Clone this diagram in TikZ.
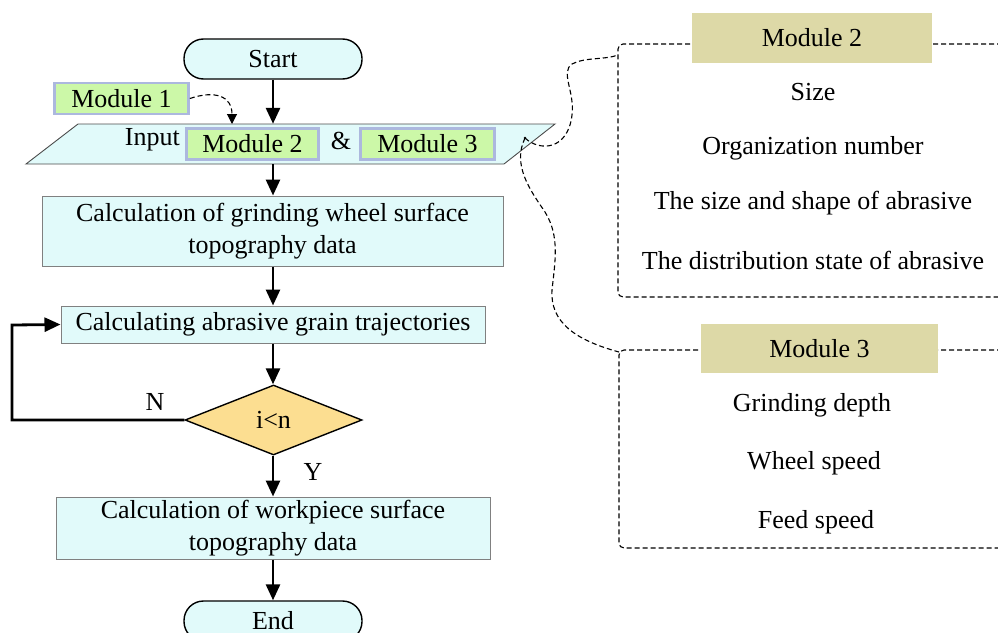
\documentclass[tikz,border=0pt]{standalone}
\usepackage{fontspec}
\setmainfont{Liberation Serif}
\usetikzlibrary{shapes.geometric,arrows.meta}
\definecolor{cyanfill}{RGB}{225,250,250}
\definecolor{greenfill}{RGB}{204,248,168}
\definecolor{greenedge}{RGB}{172,184,222}
\definecolor{khaki}{RGB}{221,217,167}
\definecolor{diamfill}{RGB}{252,222,145}
\definecolor{boxedge}{RGB}{128,128,128}
\begin{document}
\begin{tikzpicture}[x=1pt,y=-1pt,
  every node/.style={font=\fontsize{26}{32}\selectfont, inner sep=0pt},
  term/.style={draw=black, line width=1.4pt, fill=cyanfill, rounded corners=19.5pt, minimum width=178pt, minimum height=40pt},
  procbox/.style={draw=boxedge, line width=1pt, fill=cyanfill, align=center},
  greenbox/.style={draw=greenedge, line width=2.8pt, fill=greenfill, minimum height=31pt},
  flowarrow/.style={line width=2.8pt, -{Triangle[width=14pt,length=16pt]}},
  dasharrow/.style={dash pattern=on 5pt off 3pt, line width=1.1pt, -{Triangle[width=10pt,length=10pt]}},
  dashline/.style={dash pattern=on 5pt off 3pt, line width=1.1pt},
  panel/.style={dash pattern=on 5pt off 3pt, line width=1.1pt, rounded corners=5pt},
  header/.style={fill=khaki, minimum width=240pt, minimum height=50pt},
  item/.style={anchor=center}
]
\useasboundingbox (0,0) rectangle (998,632);

% Start
\node[term] (start) at (273,59) {Start};

% Module 1
\node[greenbox, minimum width=134pt] (m1) at (121.5,98.5) {Module 1};

% Input parallelogram
\draw[draw=black!70, line width=0.9pt, fill=cyanfill] (78,124) -- (555,124) -- (504,164) -- (26,164) -- cycle;
\node[minimum width=478pt, minimum height=40pt] (input) at (290.5,144) {};
\node[anchor=east] (inputtxt) at (180,140) {Input};
\node[greenbox, minimum width=132pt] (im2) at (252.5,144) {Module 2};
\node (amp) at (341,141) {\&};
\node[greenbox, minimum width=134pt] (im3) at (427.5,144) {Module 3};
\coordinate (intop) at (232,124);
\coordinate (J) at (525,138);

% Process boxes
\node[procbox, minimum width=461pt, minimum height=70pt] (b1) at (272.5,231) {Calculation of grinding wheel surface\\topography data};
\node[procbox, minimum width=424pt, minimum height=37pt] (b2) at (273,324.5) {Calculating abrasive grain trajectories};
\node[draw=black, line width=1.4pt, fill=diamfill, shape=diamond, minimum width=177pt, minimum height=70pt] (dec) at (273.5,420) {i<n};
\node[procbox, minimum width=434pt, minimum height=62pt] (b3) at (273,528) {Calculation of workpiece surface\\topography data};
\node[term] (end) at (273,621) {End};

\node (N) at (155,402) {N};
\node (Y) at (313,472) {Y};

% Flow arrows
\draw[flowarrow] (start.south) -- (start.south |- input.north);
\draw[flowarrow] (input.south -| start.south) -- (b1.north -| start.south);
\draw[flowarrow] (b1.south -| start.south) -- (b2.north -| start.south);
\draw[flowarrow] (b2.south -| start.south) -- (dec.north -| start.south);
\draw[flowarrow] (dec.south -| start.south) -- (b3.north -| start.south);
\draw[flowarrow] (b3.south -| start.south) -- (end.north -| start.south);
\coordinate (lb) at (12,420);
\coordinate (lt) at (12,325);
\draw[flowarrow] (dec.west) -- (lb) -- (lt) -- (b2.west);

% Module 1 dashed arrow
\draw[dasharrow] (m1.east) .. controls (215,90) and (232,96) .. (intop);

% Module 2 panel
\draw[panel] (1010,44) -- (618,44) -- (618,297) -- (1010,297);
\node[header] (h2) at (812,37.5) {Module 2};
\node[item] (s1) at (813,92) {Size};
\node[item] (s2) at (813,148) {Organization number};
\node[item] (s3) at (813,203) {The size and shape of abrasive};
\node[item] (s4) at (813,260) {The distribution state of abrasive};

% Module 3 panel
\draw[panel] (1010,350) -- (619,350) -- (619,548) -- (1010,548);
\node[header, minimum width=237pt, minimum height=49pt] (h3) at (819.5,348.5) {Module 3};
\node[item] (t1) at (812,405) {Grinding depth};
\node[item] (t2) at (814,463) {Wheel speed};
\node[item] (t3) at (816,522) {Feed speed};

% Curly dashed connectors
\coordinate (c2) at (618,55);
\coordinate (c3) at (619,352);
\draw[dashline] (J) .. controls (540,152) and (568,150) .. (572,115) .. controls (575,92) and (560,72) .. (572,64) .. controls (585,57) and (605,60) .. (c2);
\draw[dashline] (J) .. controls (512,165) and (530,190) .. (545,212) .. controls (560,236) and (555,262) .. (552,290) .. controls (550,322) and (575,340) .. (c3);
\fill (J) circle (1.3pt);
\end{tikzpicture}
\end{document}
